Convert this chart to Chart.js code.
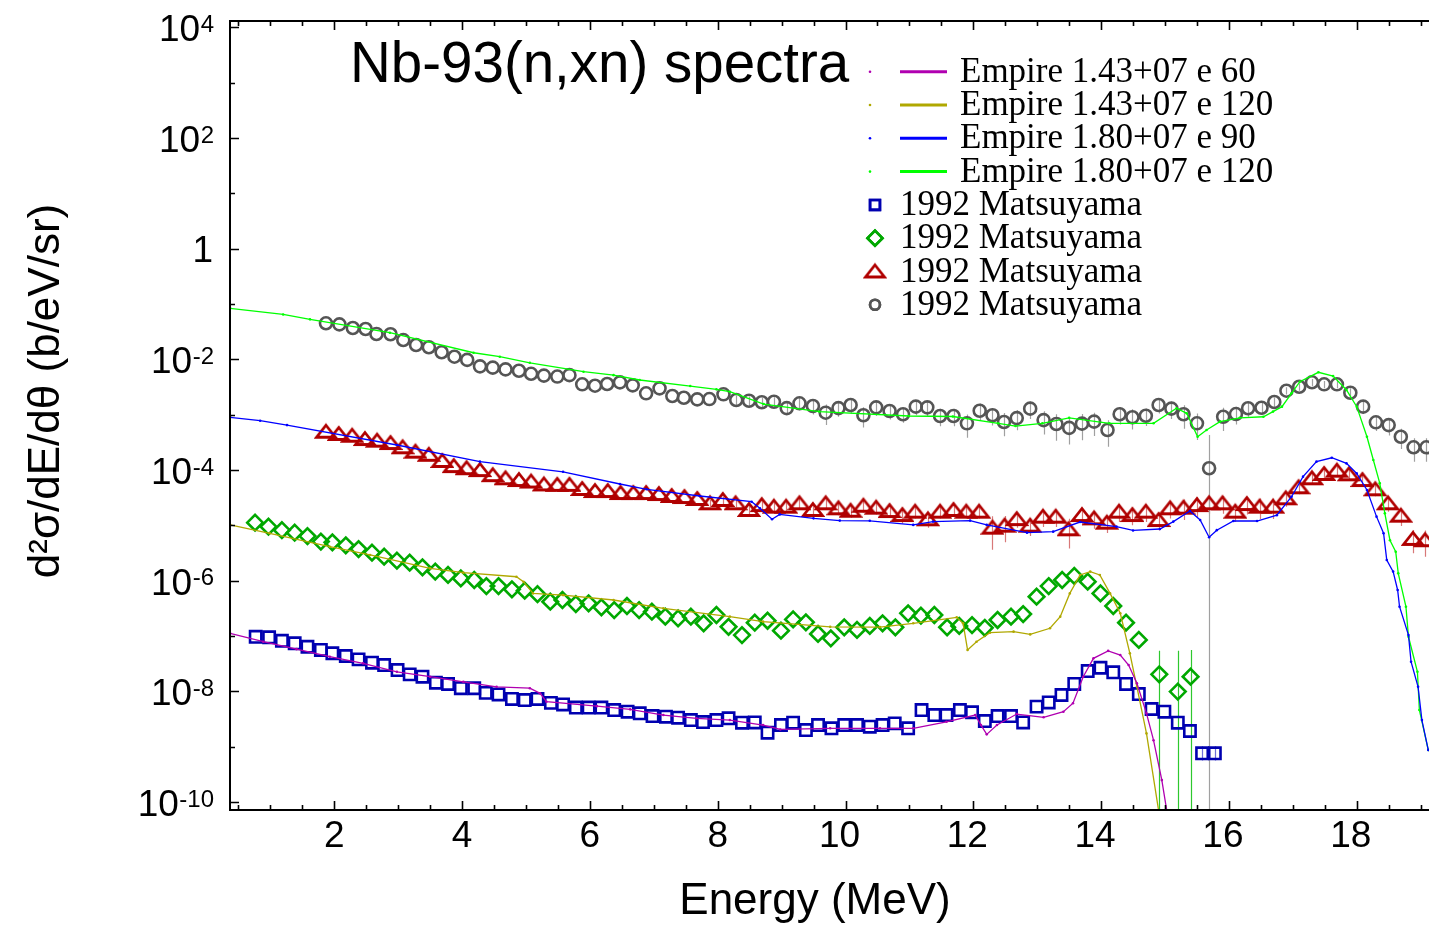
<!DOCTYPE html>
<html><head><meta charset="utf-8">
<style>html,body{margin:0;padding:0;background:#fff;overflow:hidden}canvas{display:block}</style>
<script src="https://cdn.jsdelivr.net/npm/chart.js@4.4.0/dist/chart.umd.min.js"></script>
</head><body>
<canvas id="c" width="1429" height="925" style="width:1429px;height:925px"></canvas>
<script>
// ---------- axis ticks ----------
const xTickValues = [2, 4, 6, 8, 10, 12, 14, 16, 18];
const xTickLabels = ['2', '4', '6', '8', '10', '12', '14', '16', '18'];
const yTickValues = [1e4, 1e2, 1, 1e-2, 1e-4, 1e-6, 1e-8, 1e-10];
const yTickBase = ['10', '10', '1', '10', '10', '10', '10', '10'];
const yTickExp = ['4', '2', '', '-2', '-4', '-6', '-8', '-10'];
const yMinorTickValues = [1e3, 1e1, 1e-1, 1e-3, 1e-5, 1e-7, 1e-9];

// ---------- EMPIRE calculations (lines) ----------
const magE = [0.37, 0.89, 1.41, 1.93, 2.45, 2.98, 3.50, 4.02, 4.54, 5.06, 5.22, 5.32, 6.11, 6.63, 7.15, 7.67, 8.19, 8.71, 8.98, 9.76, 10.54, 11.06, 11.58, 12.03, 12.12, 12.21, 12.37, 12.68, 13.10, 13.41, 13.56, 13.72, 13.88, 14.11, 14.30, 14.43, 14.56, 14.71, 14.82, 14.95, 15.03];
const magV = [1.12e-7, 7.9e-8, 5.8e-8, 4.23e-8, 3.21e-8, 2.26e-8, 1.84e-8, 1.49e-8, 1.21e-8, 1.14e-8, 9.2e-9, 6.5e-9, 5.4e-9, 4.73e-9, 3.73e-9, 3.26e-9, 3.03e-9, 2.46e-9, 2.05e-9, 2.15e-9, 2.15e-9, 2.15e-9, 2.82e-9, 3.73e-9, 2.46e-9, 1.67e-9, 2.46e-9, 3.89e-9, 3.40e-9, 4.29e-9, 6.1e-9, 1.84e-8, 3.95e-8, 5.4e-8, 4.54e-8, 2.99e-8, 1.40e-8, 4.01e-9, 1.31e-9, 2.49e-10, 6.7e-11];

const oliveE = [0.37, 0.99, 1.93, 2.56, 3.50, 4.02, 4.85, 4.96, 5.11, 5.58, 6.37, 7.15, 8.19, 8.71, 9.76, 10.54, 11.06, 11.74, 11.84, 11.91, 12.05, 12.26, 12.63, 12.89, 13.20, 13.36, 13.51, 13.67, 13.83, 13.98, 14.14, 14.30, 14.45, 14.56, 14.71, 14.92];
const oliveV = [1.02e-5, 7.2e-6, 4.12e-6, 2.92e-6, 1.67e-6, 1.40e-6, 1.18e-6, 9.6e-7, 5.9e-7, 5.5e-7, 4.48e-7, 3.17e-7, 2.24e-7, 1.82e-7, 1.47e-7, 1.45e-7, 1.70e-7, 2.18e-7, 1.70e-7, 5.6e-8, 7.9e-8, 1.15e-7, 1.20e-7, 1.07e-7, 1.38e-7, 2.24e-7, 5.9e-7, 1.27e-6, 1.46e-6, 1.27e-6, 5.9e-7, 2.58e-7, 4.87e-8, 1.21e-8, 1.74e-9, 5e-11];

const blueE = [0.37, 0.84, 1.26, 2.98, 4.28, 5.58, 6.47, 6.89, 7.72, 8.53, 8.66, 8.85, 8.97, 9.50, 9.91, 10.38, 11.06, 11.37, 11.95, 12.21, 12.84, 13.25, 13.67, 14.24, 14.50, 14.92, 15.13, 15.39, 15.55, 15.69, 15.81, 16.07, 16.44, 16.75, 16.98, 17.16, 17.37, 17.61, 17.84, 18.00, 18.16, 18.31, 18.42, 18.47, 18.57, 18.64, 18.67, 18.81, 18.85, 18.96, 19.02, 19.12];
const blueV = [9.0e-4, 7.8e-4, 6.5e-4, 2.84e-4, 1.42e-4, 9.3e-5, 5.6e-5, 4.49e-5, 3.40e-5, 2.68e-5, 2.04e-5, 1.29e-5, 1.58e-5, 1.34e-5, 1.22e-5, 1.21e-5, 1.02e-5, 1.17e-5, 1.22e-5, 1.02e-5, 7.4e-6, 7.7e-6, 1.15e-5, 9.5e-6, 8.1e-6, 8.6e-6, 1.17e-5, 1.82e-5, 1.25e-5, 6.1e-6, 8.2e-6, 1.20e-5, 1.20e-5, 1.53e-5, 3.30e-5, 7.6e-5, 1.42e-4, 1.67e-4, 1.32e-4, 8.7e-5, 4.36e-5, 1.44e-5, 7.2e-6, 2.37e-6, 1.46e-6, 6.8e-7, 3.39e-7, 1.04e-7, 3.43e-8, 1.21e-8, 3.03e-9, 8.7e-10];

const greenE = [0.37, 1.20, 1.62, 2.87, 4.18, 4.59, 5.06, 5.90, 6.37, 6.78, 7.57, 7.98, 8.19, 8.72, 9.59, 10.99, 11.68, 12.39, 12.66, 13.08, 13.50, 14.13, 14.82, 15.18, 15.34, 15.51, 15.65, 15.86, 16.17, 16.54, 16.69, 16.83, 16.98, 17.11, 17.40, 17.63, 17.84, 18.00, 18.16, 18.26, 18.36, 18.44, 18.52, 18.61, 18.65, 18.77, 18.81, 18.95, 18.98, 19.12];
const greenV = [8.4e-2, 6.5e-2, 5.3e-2, 3.04e-2, 1.32e-2, 1.12e-2, 8.7e-3, 6.0e-3, 5.2e-3, 4.25e-3, 3.3e-3, 2.88e-3, 2.61e-3, 1.56e-3, 1.14e-3, 9.5e-4, 9.3e-4, 7.0e-4, 6.25e-4, 7.0e-4, 8.8e-4, 7.0e-4, 7.0e-4, 1.31e-3, 1.06e-3, 4.0e-4, 5.3e-4, 7.5e-4, 8.8e-4, 9.2e-4, 1.14e-3, 1.40e-3, 2.44e-3, 3.95e-3, 5.85e-3, 5.0e-3, 2.8e-3, 1.4e-3, 4.0e-4, 1.52e-4, 5.8e-5, 1.65e-5, 5.4e-6, 3.34e-6, 1.36e-6, 3.39e-7, 9.7e-8, 2.26e-8, 4.6e-9, 8.7e-10];

// ---------- 1992 Matsuyama (markers) ----------
const sqE = [0.77, 0.98, 1.18, 1.38, 1.58, 1.79, 1.97, 2.18, 2.38, 2.59, 2.78, 2.99, 3.18, 3.38, 3.59, 3.78, 3.98, 4.19, 4.37, 4.57, 4.78, 4.98, 5.18, 5.39, 5.58, 5.78, 5.98, 6.18, 6.38, 6.59, 6.78, 6.98, 7.19, 7.38, 7.58, 7.77, 7.98, 8.17,
  8.38, 8.58, 8.78, 8.99, 9.18, 9.38, 9.57, 9.78, 9.98, 10.18, 10.38, 10.58, 10.77, 10.98, 11.19, 11.39, 11.58, 11.79, 11.98, 12.18, 12.38, 12.59, 12.78, 12.99, 13.18, 13.38, 13.58, 13.79, 13.99, 14.19, 14.39, 14.59, 14.79, 14.99, 15.20, 15.39, 15.58, 15.78];
const sqV = [9.7e-8, 9.5e-8, 8.2e-8, 7.4e-8, 6.4e-8, 5.6e-8, 4.87e-8, 4.36e-8, 3.79e-8, 3.30e-8, 2.99e-8, 2.43e-8, 2.03e-8, 1.84e-8, 1.43e-8, 1.36e-8, 1.14e-8, 1.14e-8, 9.4e-9, 8.8e-9, 7.3e-9, 6.97e-9, 7.3e-9, 6.2e-9, 5.8e-9, 5.1e-9, 5.1e-9, 5.1e-9, 4.6e-9, 4.29e-9, 4.01e-9, 3.58e-9, 3.48e-9, 3.34e-9, 3.03e-9, 2.79e-9, 3.03e-9, 3.26e-9,
  2.71e-9, 2.74e-9, 1.79e-9, 2.46e-9, 2.71e-9, 2.00e-9, 2.46e-9, 2.15e-9, 2.46e-9, 2.46e-9, 2.30e-9, 2.46e-9, 2.64e-9, 2.15e-9, 4.6e-9, 3.73e-9, 3.73e-9, 4.6e-9, 4.18e-9, 2.91e-9, 3.58e-9, 3.58e-9, 2.74e-9, 5.3e-9, 6.3e-9, 8.6e-9, 1.36e-8, 2.33e-8, 2.67e-8, 2.21e-8, 1.36e-8, 8.95e-9, 4.8e-9, 4.29e-9, 2.71e-9, 1.92e-9, 7.6e-10, 7.6e-10];
// explicit error bars [E, low, high]
const sqBars = [[15.58, 5.6e-10, 1.02e-9], [15.78, 5.6e-10, 1.02e-9]];

const diaE = [0.76, 0.97, 1.18, 1.38, 1.58, 1.79, 1.97, 2.18, 2.38, 2.59, 2.78, 2.98, 3.18, 3.38, 3.58, 3.78, 3.98, 4.19, 4.38, 4.57, 4.78, 4.98, 5.18, 5.38, 5.57, 5.78, 5.98, 6.18, 6.38, 6.58, 6.77, 6.97, 7.18, 7.38, 7.58, 7.78, 7.98, 8.17,
  8.38, 8.58, 8.78, 8.99, 9.18, 9.38, 9.57, 9.77, 9.98, 10.18, 10.38, 10.58, 10.78, 10.98, 11.18, 11.39, 11.59, 11.78, 11.98, 12.18, 12.38, 12.59, 12.78, 12.99, 13.18, 13.39, 13.58, 13.79, 13.99, 14.19, 14.39, 14.59,
  14.91, 15.20, 15.40];
const diaV = [1.12e-5, 9.5e-6, 8.2e-6, 7.4e-6, 6.4e-6, 5.1e-6, 4.94e-6, 4.36e-6, 3.74e-6, 3.21e-6, 2.72e-6, 2.30e-6, 2.12e-6, 1.75e-6, 1.46e-6, 1.27e-6, 1.10e-6, 1.03e-6, 8.0e-7, 8.0e-7, 7.0e-7, 6.6e-7, 5.7e-7, 4.17e-7, 4.48e-7, 3.79e-7, 3.91e-7, 3.31e-7, 2.95e-7, 3.49e-7, 2.95e-7, 2.75e-7, 2.24e-7, 2.09e-7, 2.24e-7, 1.70e-7, 2.40e-7, 1.47e-7,
  1.04e-7, 1.74e-7, 1.89e-7, 1.25e-7, 2.00e-7, 1.77e-7, 1.09e-7, 9.1e-8, 1.44e-7, 1.29e-7, 1.52e-7, 1.70e-7, 1.44e-7, 2.58e-7, 2.33e-7, 2.40e-7, 1.44e-7, 1.52e-7, 1.58e-7, 1.41e-7, 1.95e-7, 2.24e-7, 2.50e-7, 5.14e-7, 8.0e-7, 1.03e-6, 1.22e-6, 9.6e-7, 5.9e-7, 3.49e-7, 1.74e-7, 8.5e-8,
  2.03e-8, 9.9e-9, 1.84e-8];
const diaBars = [[14.91, 1e-14, 5.4e-8], [15.20, 1e-14, 5.4e-8], [15.40, 1e-14, 5.6e-8]];

const triE = [1.87, 2.07, 2.28, 2.48, 2.67, 2.88, 3.07, 3.27, 3.48, 3.69, 3.87, 4.07, 4.28, 4.48, 4.68, 4.89, 5.08, 5.28, 5.49, 5.68,
  5.88, 6.08, 6.28, 6.48, 6.68, 6.88, 7.08, 7.28, 7.48, 7.68,
  7.88, 8.08, 8.28, 8.49, 8.69, 8.88, 9.07, 9.28, 9.49, 9.69, 9.89, 10.08, 10.28, 10.48, 10.69, 10.89, 11.09, 11.29, 11.48, 11.69, 11.89, 12.09, 12.30, 12.49, 12.68, 12.89, 13.09, 13.29, 13.49, 13.70, 13.89, 14.09,
  14.28, 14.49, 14.70, 14.90, 15.08, 15.29, 15.50, 15.69, 15.90, 16.10, 16.28, 16.48, 16.69, 16.89, 17.09, 17.30, 17.49, 17.69, 17.88, 18.09, 18.29, 18.49, 18.69, 18.88, 19.07];
const triV = [4.93e-4, 4.49e-4, 4.18e-4, 3.64e-4, 3.40e-4, 3.08e-4, 2.58e-4, 2.15e-4, 1.89e-4, 1.46e-4, 1.18e-4, 1.08e-4, 1.00e-4, 8.1e-5, 7.1e-5, 6.6e-5, 6.2e-5, 5.5e-5, 5.4e-5, 5.4e-5,
  4.55e-5, 4.18e-5, 4.18e-5, 3.85e-5, 3.85e-5, 3.85e-5, 3.69e-5, 3.40e-5, 3.26e-5, 3.0e-5,
  2.51e-5, 2.88e-5, 2.51e-5, 1.90e-5, 2.33e-5, 2.18e-5, 2.18e-5, 2.51e-5, 1.90e-5, 2.51e-5, 2.04e-5, 1.84e-5, 2.27e-5, 2.09e-5, 1.82e-5, 1.54e-5, 1.77e-5, 1.29e-5, 1.77e-5, 1.90e-5, 1.77e-5, 1.77e-5, 9.1e-6, 9.9e-6, 1.30e-5, 9.9e-6, 1.44e-5, 1.44e-5, 8.5e-6, 1.54e-5, 1.34e-5, 1.12e-5,
  1.77e-5, 1.54e-5, 1.77e-5, 1.25e-5, 2.04e-5, 2.09e-5, 2.33e-5, 2.51e-5, 2.51e-5, 1.77e-5, 2.43e-5, 2.18e-5, 2.18e-5, 3.09e-5, 4.88e-5, 7.1e-5, 8.5e-5, 9.75e-5, 8.4e-5, 6.6e-5, 4.49e-5, 2.51e-5, 1.50e-5, 5.7e-6, 5.4e-6];
// relative errors of the last points (aligned to the end of triE, from 7.88 MeV on)
const triErr = [0.15, 0.15, 0.15, 0.2, 0.2, 0.2, 0.2, 0.2, 0.25, 0.2, 0.25, 0.25, 0.25, 0.25, 0.25, 0.3, 0.25, 0.3, 0.25, 0.25, 0.25, 0.25, 0.6, 0.5, 0.3, 0.35, 0.35, 0.35, 0.55, 0.35, 0.35, 0.35,
  0.35, 0.35, 0.35, 0.35, 0.35, 0.4, 0.4, 0.35, 0.35, 0.35, 0.35, 0.4, 0.4, 0.3, 0.25, 0.2, 0.2, 0.2, 0.2, 0.2, 0.25, 0.3, 0.35, 0.45, 0.5];

const circE = [1.87, 2.08, 2.29, 2.49, 2.66, 2.88, 3.08, 3.28, 3.48, 3.68, 3.88, 4.08, 4.28, 4.48, 4.68, 4.89, 5.08, 5.28, 5.49, 5.68, 5.88, 6.08, 6.27, 6.47, 6.67, 6.88, 7.09, 7.29, 7.47, 7.68, 7.87, 8.09,
  8.29, 8.49, 8.69, 8.88, 9.08, 9.28, 9.49, 9.69, 9.89, 10.08, 10.28, 10.48, 10.69, 10.90, 11.10, 11.28, 11.48, 11.69, 11.90, 12.10, 12.30, 12.48, 12.68, 12.89, 13.10, 13.30, 13.50, 13.70, 13.89, 14.10, 14.29, 14.49, 14.70, 14.90, 15.10, 15.29, 15.50, 15.69, 15.91, 16.11, 16.30, 16.51, 16.71, 16.90, 17.10, 17.30, 17.49, 17.69, 17.90, 18.10, 18.30, 18.50, 18.69, 18.89, 19.09];
const circV = [4.5e-2, 4.3e-2, 3.7e-2, 3.55e-2, 2.88e-2, 2.85e-2, 2.24e-2, 1.82e-2, 1.66e-2, 1.35e-2, 1.12e-2, 9.8e-3, 7.5e-3, 7.1e-3, 6.6e-3, 6.25e-3, 5.5e-3, 5.1e-3, 4.9e-3, 5.2e-3, 3.55e-3, 3.35e-3, 3.6e-3, 3.85e-3, 3.4e-3, 2.44e-3, 3.0e-3, 2.18e-3, 2.03e-3, 1.9e-3, 1.92e-3, 2.34e-3,
  1.85e-3, 1.79e-3, 1.68e-3, 1.72e-3, 1.32e-3, 1.61e-3, 1.44e-3, 1.09e-3, 1.32e-3, 1.5e-3, 9.8e-4, 1.36e-3, 1.17e-3, 1.02e-3, 1.4e-3, 1.36e-3, 9.5e-4, 9.5e-4, 7.0e-4, 1.18e-3, 9.8e-4, 7.4e-4, 8.7e-4, 1.29e-3, 8.0e-4, 6.8e-4, 5.8e-4, 6.9e-4, 7.5e-4, 5.3e-4, 1.02e-3, 9.0e-4, 9.6e-4, 1.5e-3, 1.29e-3, 1.02e-3, 7.0e-4, 1.08e-4, 9.2e-4, 1.03e-3, 1.31e-3, 1.34e-3, 1.7e-3, 2.72e-3, 3.21e-3, 3.86e-3, 3.55e-3, 3.55e-3, 2.5e-3, 1.4e-3, 7.3e-4, 6.5e-4, 4.0e-4, 2.58e-4, 2.58e-4];
// relative errors aligned to the end of circE (from 8.29 MeV on); >=1 means the bar runs off the bottom
const circErr = [0.2, 0.2, 0.2, 0.2, 0.25, 0.25, 0.3, 0.4, 0.3, 0.3, 0.4, 0.3, 0.3, 0.3, 0.3, 0.3, 0.35, 0.35, 0.45, 0.35, 0.35, 0.45, 0.4, 0.35, 0.45, 0.5, 0.5, 0.5, 0.45, 0.5, 0.35, 0.4, 0.35, 0.3, 0.35, 0.45, 0.5, 3, 0.45, 0.35, 0.3, 0.25, 0.2, 0.15, 0.15, 0.15, 0.15, 0.15, 0.2, 0.25, 0.3, 0.35, 0.4, 0.45, 0.45];

// ---------- labels / colours ----------
const lineLabels = ['Empire 1.43+07 e 60', 'Empire 1.43+07 e 120', 'Empire 1.80+07 e 90', 'Empire 1.80+07 e 120'];
const lineColors = ['#b000b0', '#b0a800', '#0000ff', '#00ff00'];
const markLabels = ['1992 Matsuyama', '1992 Matsuyama', '1992 Matsuyama', '1992 Matsuyama'];
const markColors = ['#0000b0', '#00a800', '#b00000', '#555555'];
const errColors = ['#7070d8', '#2ec82e', '#d87878', '#a0a0a0'];

// flattened triangle marker
function makeTri(color) {
  const c = document.createElement('canvas'); c.width = 24; c.height = 20;
  const g = c.getContext('2d');
  g.strokeStyle = color; g.lineWidth = 2.8; g.lineJoin = 'miter';
  g.beginPath(); g.moveTo(12, 3.5); g.lineTo(21.5, 15.5); g.lineTo(2.5, 15.5); g.closePath(); g.stroke();
  return c;
}
const triImg = makeTri(markColors[2]);

function pts(xs, ys) { return xs.map((x, i) => ({x: x, y: ys[i]})); }
function lineDS(i, xs, ys) {
  return {label: lineLabels[i], data: pts(xs, ys), showLine: true, borderColor: lineColors[i], backgroundColor: lineColors[i],
    borderWidth: 1.3, pointRadius: 1.3, pointBorderWidth: 0, pointHoverRadius: 1.3, tension: 0};
}
function markDS(i, xs, ys, style, r) {
  return {label: markLabels[i], data: pts(xs, ys), showLine: false, borderColor: markColors[i], backgroundColor: 'rgba(0,0,0,0)',
    pointStyle: style, pointRadius: r, pointHoverRadius: r, borderWidth: 2.6, pointBorderWidth: 2.6};
}

const relErrSets = [[triE, triV, triErr, errColors[2]], [circE, circV, circErr, errColors[3]]];
const absErrSets = [[sqBars, errColors[0]], [diaBars, errColors[1]]];

const SANS = '"Liberation Sans", Arial, Helvetica, sans-serif';
const SERIF = '"Liberation Serif", "Times New Roman", serif';

const decorPlugin = {
  id: 'decor',
  beforeDatasetsDraw(chart) {
    const ctx = chart.ctx, xs = chart.scales.x, ys = chart.scales.y, a = chart.chartArea;
    ctx.save();
    ctx.beginPath(); ctx.rect(a.left, a.top, a.right - a.left, a.bottom - a.top); ctx.clip();
    ctx.lineWidth = 1.2;
    relErrSets.forEach(([E, V, R, col]) => {
      ctx.strokeStyle = col; ctx.beginPath();
      const off = E.length - R.length;
      for (let j = 0; j < R.length; j++) {
        const i = j + off;
        const hi = V[i] * (1 + R[j]);
        const lo = R[j] >= 1 ? 1e-14 : V[i] * (1 - R[j]);
        const px = Math.round(xs.getPixelForValue(E[i])) + 0.5;
        ctx.moveTo(px, ys.getPixelForValue(hi)); ctx.lineTo(px, ys.getPixelForValue(lo));
      }
      ctx.stroke();
    });
    absErrSets.forEach(([bars, col]) => {
      ctx.strokeStyle = col; ctx.beginPath();
      bars.forEach(b => {
        const px = Math.round(xs.getPixelForValue(b[0])) + 0.5;
        ctx.moveTo(px, ys.getPixelForValue(b[2])); ctx.lineTo(px, ys.getPixelForValue(b[1]));
      });
      ctx.stroke();
    });
    ctx.restore();
  },
  afterDraw(chart) {
    const ctx = chart.ctx, xs = chart.scales.x, ys = chart.scales.y, a = chart.chartArea;
    ctx.save();
    // frame
    ctx.strokeStyle = '#000'; ctx.lineWidth = 2;
    ctx.beginPath();
    ctx.moveTo(a.right + 2, a.top); ctx.lineTo(a.left, a.top); ctx.lineTo(a.left, a.bottom); ctx.lineTo(a.right + 2, a.bottom);
    ctx.stroke();
    // x ticks (bottom and top, inward)
    ctx.lineWidth = 1.6; ctx.beginPath();
    for (let v = 0.5; v < 19.2; v += 0.5) {
      const px = Math.round(xs.getPixelForValue(v)) + 0.5;
      if (px < a.left + 2 || px > a.right) continue;
      const major = xTickValues.includes(v);
      const L = major ? 9 : 5;
      ctx.moveTo(px, a.bottom); ctx.lineTo(px, a.bottom - L);
      ctx.moveTo(px, a.top); ctx.lineTo(px, a.top + L);
    }
    // y ticks
    yTickValues.forEach(v => { const py = Math.round(ys.getPixelForValue(v)) + 0.5; ctx.moveTo(a.left, py); ctx.lineTo(a.left + 9, py); });
    yMinorTickValues.forEach(v => { const py = Math.round(ys.getPixelForValue(v)) + 0.5; ctx.moveTo(a.left, py); ctx.lineTo(a.left + 5, py); });
    ctx.stroke();

    // x tick labels
    ctx.fillStyle = '#000';
    ctx.font = '37px ' + SANS; ctx.textAlign = 'center'; ctx.textBaseline = 'alphabetic';
    xTickValues.forEach((v, i) => {
      const shift = xTickLabels[i].length > 1 ? -6 : 0;
      ctx.fillText(xTickLabels[i], xs.getPixelForValue(v) + shift, 847);
    });
    // y tick labels with superscripts
    yTickValues.forEach((v, i) => {
      const py = ys.getPixelForValue(v);
      const right = 214;
      if (!yTickExp[i]) {
        ctx.font = '37px ' + SANS; ctx.textAlign = 'right';
        ctx.fillText(yTickBase[i], right - 1, py + 13.5);
      } else {
        ctx.font = '24px ' + SANS; ctx.textAlign = 'right';
        ctx.fillText(yTickExp[i], right, py + 4.5);
        const w = ctx.measureText(yTickExp[i]).width;
        ctx.font = '37px ' + SANS;
        ctx.fillText(yTickBase[i], right - w - 0.5, py + 14);
      }
    });
    // axis titles
    ctx.font = '44px ' + SANS; ctx.textAlign = 'center';
    ctx.fillText('Energy (MeV)', 815, 914);
    ctx.save();
    ctx.translate(59, 391); ctx.rotate(-Math.PI / 2);
    ctx.font = '44px ' + SANS; ctx.textAlign = 'center'; ctx.textBaseline = 'alphabetic';
    ctx.fillText('d²σ/dE/dθ (b/eV/sr)', 0, 0);
    ctx.restore();
    // title
    ctx.font = '56.5px ' + SANS; ctx.textAlign = 'left';
    ctx.fillText('Nb-93(n,xn) spectra', 350, 82);

    // legend
    ctx.font = '35px ' + SERIF; ctx.textAlign = 'left';
    const base0 = 81.7, step = 33.3;
    for (let i = 0; i < 4; i++) {
      const yb = base0 + step * i, ym = yb - 10;
      ctx.fillStyle = lineColors[i];
      ctx.beginPath(); ctx.arc(870, ym, 1.3, 0, Math.PI * 2); ctx.fill();
      ctx.strokeStyle = lineColors[i]; ctx.lineWidth = 3;
      ctx.beginPath(); ctx.moveTo(900, ym); ctx.lineTo(947, ym); ctx.stroke();
      ctx.fillStyle = '#000'; ctx.fillText(lineLabels[i], 960, yb);
    }
    const mstyles = [['rect', 7], ['rectRot', 7.5], [triImg, 0], ['circle', 5]];
    for (let i = 0; i < 4; i++) {
      const yb = base0 + step * (i + 4), ym = yb - 10;
      const st = mstyles[i];
      ctx.strokeStyle = markColors[i]; ctx.fillStyle = 'rgba(0,0,0,0)'; ctx.lineWidth = 2.6;
      if (typeof st[0] === 'string') {
        Chart.helpers.drawPoint(ctx, {pointStyle: st[0], radius: st[1], rotation: 0, borderWidth: 2.6}, 875, ym);
        ctx.stroke();
      } else {
        ctx.drawImage(st[0], 875 - st[0].width / 2, ym - st[0].height / 2);
      }
      ctx.fillStyle = '#000'; ctx.fillText(markLabels[i], 900, yb);
    }
    ctx.restore();
  }
};

new Chart(document.getElementById('c'), {
  type: 'scatter',
  data: {
    datasets: [
      lineDS(0, magE, magV),
      lineDS(1, oliveE, oliveV),
      lineDS(2, blueE, blueV),
      lineDS(3, greenE, greenV),
      markDS(0, sqE, sqV, 'rect', 8),
      markDS(1, diaE, diaV, 'rectRot', 7.8),
      markDS(2, triE, triV, triImg, 9),
      markDS(3, circE, circV, 'circle', 6)
    ]
  },
  options: {
    responsive: false, animation: false, devicePixelRatio: 1,
    layout: {autoPadding: false, padding: {left: 230, top: 21, right: 0, bottom: 115}},
    plugins: {legend: {display: false}, tooltip: {enabled: false}, title: {display: false}},
    events: [],
    scales: {
      x: {type: 'linear', display: false, bounds: 'data', min: 0.368, max: 19.131},
      y: {type: 'logarithmic', display: false, bounds: 'data', min: 7.17e-11, max: 1.31e4}
    }
  },
  plugins: [decorPlugin]
});
</script>
</body></html>
